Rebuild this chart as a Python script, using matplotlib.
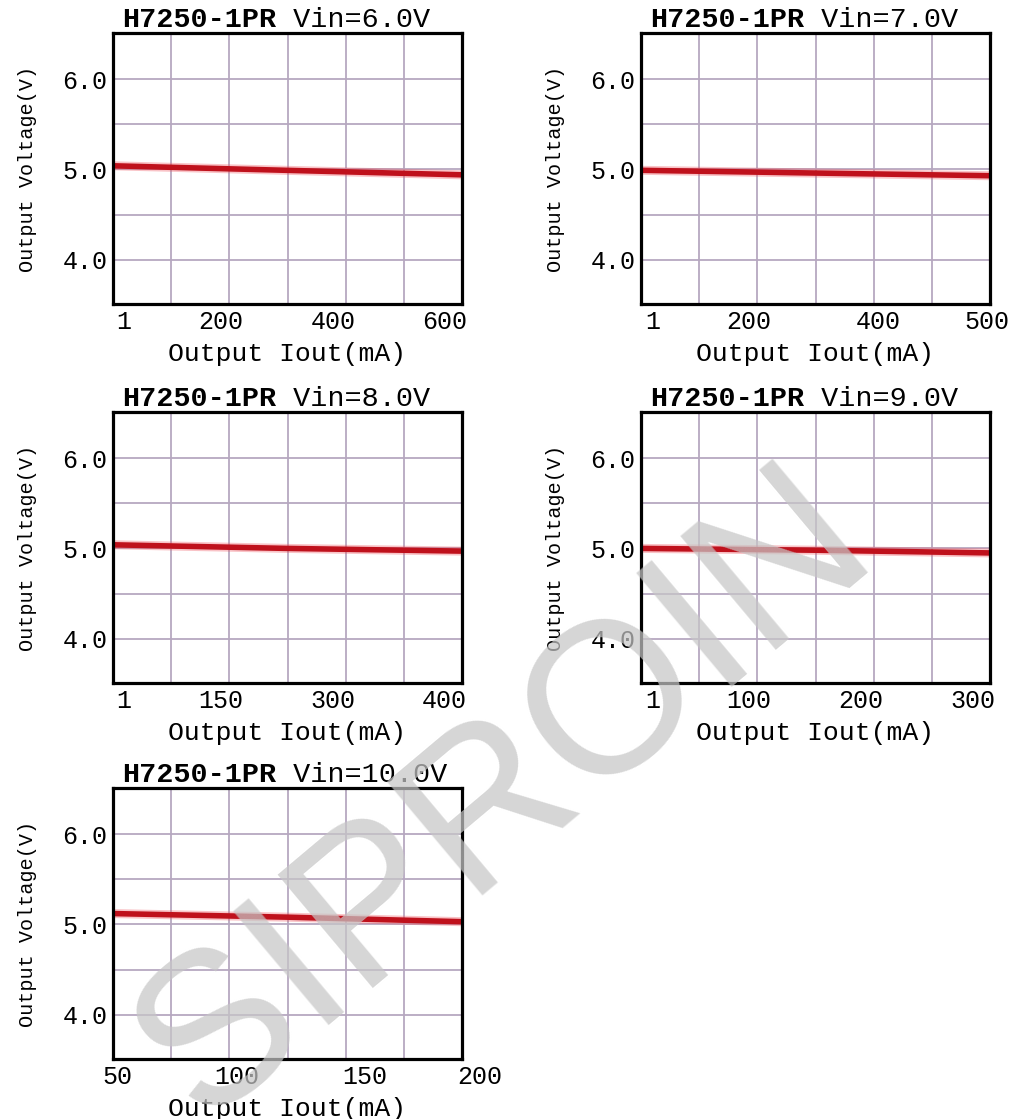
import matplotlib
matplotlib.use("Agg")
import matplotlib.pyplot as plt
from matplotlib.ticker import FixedLocator

# ---- data ----
part_no = "H7250-1PR"
vin_labels = ["6.0", "7.0", "8.0", "9.0", "10.0"]
x_ticklabels = [
    ["1", "200", "400", "600"],
    ["1", "200", "400", "500"],
    ["1", "150", "300", "400"],
    ["1", "100", "200", "300"],
    ["50", "100", "150", "200"],
]
i_out = [
    [1, 310, 625],
    [1, 250, 505],
    [1, 205, 410],
    [1, 155, 310],
    [48, 120, 192],
]
v_out = [
    [5.04, 4.99, 4.94],
    [4.99, 4.96, 4.93],
    [5.04, 5.00, 4.97],
    [5.00, 4.98, 4.95],
    [5.12, 5.08, 5.03],
]
y_ticks = [4.0, 5.0, 6.0]
y_ticklabels = ["4.0", "5.0", "6.0"]
y_grid = [4.5, 5.5]

# ---- layout (pixels in a 1017x1119 image) ----
W, H = 1017, 1119
boxes = [(113, 33), (641, 33), (113, 412), (641, 412), (113, 788)]  # left, top
box_w, box_h = 349, 271
tick_frac = [
    [0.03, 0.31, 0.63, 0.95],
    [0.034, 0.31, 0.68, 0.99],
    [0.03, 0.31, 0.63, 0.95],
    [0.034, 0.31, 0.63, 0.95],
    [0.012, 0.355, 0.72, 1.05],
]

mono = "Liberation Mono"
grid_col = "#b6a8c0"
red = "#bf111c"

fig = plt.figure(figsize=(W / 100, H / 100), dpi=100)
fig.patch.set_facecolor("white")

for k in range(5):
    left, top = boxes[k]
    ax = fig.add_axes([left / W, 1 - (top + box_h) / H, box_w / W, box_h / H])
    ax.set_xlim(i_out[k][0], i_out[k][-1])
    ax.set_ylim(3.51, 6.51)

    # grid: six equal columns, half-volt rows
    x0, x1 = ax.get_xlim()
    ax.set_xticks([])
    ax.xaxis.set_minor_locator(FixedLocator([x0 + j * (x1 - x0) / 6 for j in range(1, 6)]))
    ax.set_yticks(y_ticks)
    ax.set_yticklabels(y_ticklabels, fontsize=18, family=mono)
    ax.yaxis.set_minor_locator(FixedLocator(y_grid))
    ax.grid(True, which="both", color=grid_col, lw=1.3)
    ax.tick_params(which="both", length=0)
    ax.tick_params(axis="y", pad=4)
    ax.set_axisbelow(True)

    for sp in ax.spines.values():
        sp.set_linewidth(2.3)
        sp.set_color("black")

    # curve
    ax.plot(i_out[k], v_out[k], color="#ee5560", lw=6.5, alpha=0.35, solid_capstyle="butt")
    ax.plot(i_out[k], v_out[k], color=red, lw=4.0, solid_capstyle="butt")

    # x tick labels (not evenly scaled in the original)
    for f, lab in zip(tick_frac[k], x_ticklabels[k]):
        ax.text(f, -0.066, lab, transform=ax.transAxes, ha="center", va="center",
                fontsize=18, family=mono)

    ax.set_xlabel("Output Iout(mA)", fontsize=19, family=mono, va="center")
    ax.xaxis.set_label_coords(0.5, -0.185)
    ax.set_ylabel("Output Voltage(V)", fontsize=14.5, family=mono, va="center")
    ax.yaxis.set_label_coords(-0.245, 0.5)

    t1 = ax.text(0.025, 1.0, part_no, transform=ax.transAxes, ha="left", va="bottom",
                 fontsize=20.5, family=mono, fontweight="bold")
    ax.annotate(" Vin=%sV" % vin_labels[k], xy=(1, 0), xycoords=t1, ha="left", va="bottom",
                fontsize=20.5, family=mono)

# watermark
fig.text(0.497, 0.288, "SIPROIN", rotation=40, fontsize=155, color="#c6c6c6", alpha=0.72,
         ha="center", va="center", family="Liberation Sans", zorder=20)

fig.savefig("out.png", dpi=100, facecolor="white")
